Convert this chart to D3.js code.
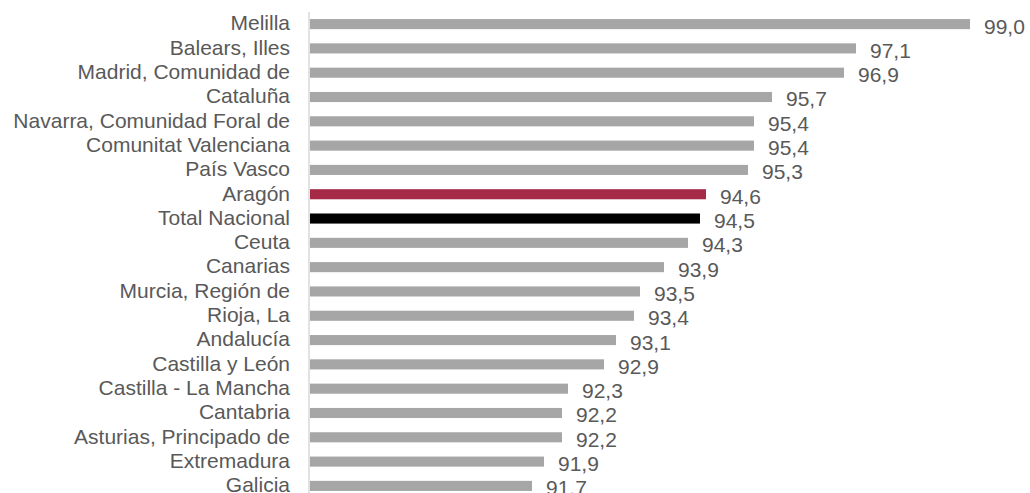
<!DOCTYPE html>
<html>
<head>
<meta charset="utf-8">
<script src="https://cdn.jsdelivr.net/npm/d3@7"></script>
<style>
  body { margin: 0; background: #fff; }
  text { font-family: "Liberation Sans", Arial, sans-serif; }
</style>
</head>
<body>
<div id="chart"></div>
<script>
let regions = ["Melilla", "Balears, Illes", "Madrid, Comunidad de", "Cataluña",
    "Navarra, Comunidad Foral de", "Comunitat Valenciana", "País Vasco", "Aragón",
    "Total Nacional", "Ceuta", "Canarias", "Murcia, Región de", "Rioja, La",
    "Andalucía", "Castilla y León", "Castilla - La Mancha", "Cantabria",
    "Asturias, Principado de", "Extremadura", "Galicia"];
let values = [99.0, 97.1, 96.9, 95.7, 95.4, 95.4, 95.3, 94.6, 94.5, 94.3,
    93.9, 93.5, 93.4, 93.1, 92.9, 92.3, 92.2, 92.2, 91.9, 91.7];
let highlight = {"Aragón": "#a62a47", "Total Nacional": "#000000"};

let width = 1030;
let height = 493;

let data = regions.map((r, i) => ({region: r, value: values[i]}));

let svg = d3.select('#chart')
    .append('svg')
        .attr('width', width)
        .attr('height', height);

let xScale = d3.scaleLinear()
    .domain([88, 100])
    .range([310, 1030]);

let yScale = d3.scaleBand()
    .domain(regions)
    .range([12, 498])
    .paddingInner(0.585)
    .paddingOuter(0.29);

// axis line
svg.append('line')
    .attr('x1', 309).attr('x2', 309)
    .attr('y1', 12).attr('y2', height)
    .attr('stroke', '#d9d9d9')
    .attr('stroke-width', 1.5);

// bars
svg.selectAll('.bar')
    .data(data)
    .enter()
    .append('rect')
        .attr('class', 'bar')
        .attr('x', xScale(88))
        .attr('y', d => yScale(d.region))
        .attr('width', d => xScale(d.value) - xScale(88))
        .attr('height', yScale.bandwidth())
        .attr('fill', d => highlight[d.region] || '#a6a6a6');

// category labels
svg.selectAll('.label')
    .data(data)
    .enter()
    .append('text')
        .attr('class', 'label')
        .attr('x', 290)
        .attr('y', d => yScale(d.region) + yScale.bandwidth() / 2)
        .attr('dy', '0.3em')
        .attr('text-anchor', 'end')
        .attr('font-size', '21px')
        .attr('fill', '#595959')
        .text(d => d.region);

// value labels
svg.selectAll('.val')
    .data(data)
    .enter()
    .append('text')
        .attr('class', 'val')
        .attr('x', d => xScale(d.value) + 14)
        .attr('y', d => yScale(d.region) + yScale.bandwidth() / 2 + 2.5)
        .attr('dy', '0.33em')
        .attr('font-size', '21px')
        .attr('fill', '#595959')
        .text(d => d3.format('.1f')(d.value).replace('.', ','));
</script>
</body>
</html>
